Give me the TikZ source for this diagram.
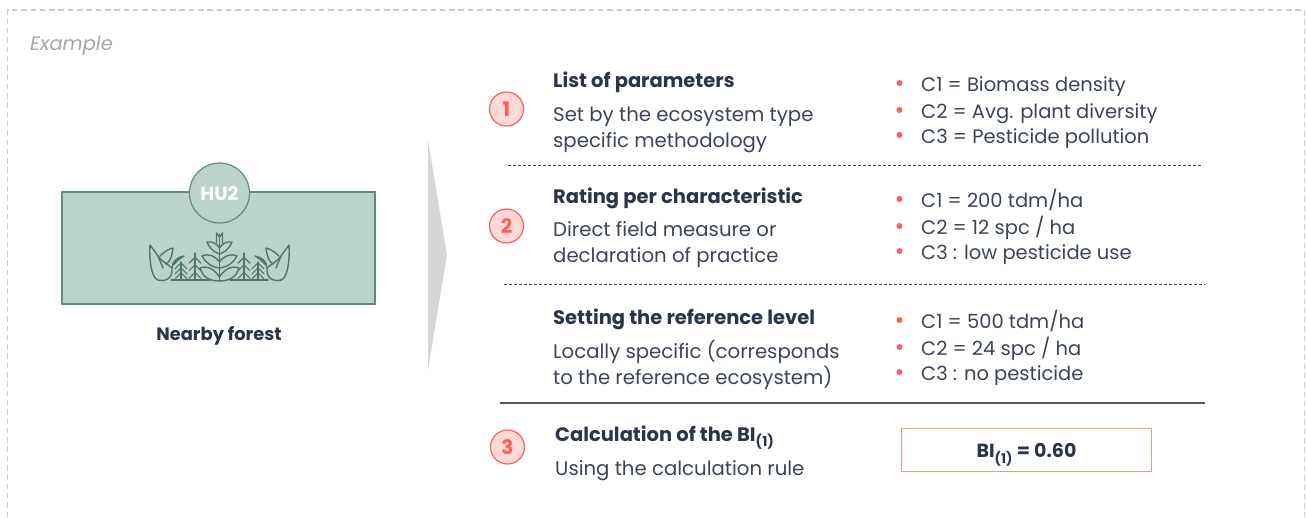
\documentclass[tikz,border=0pt]{standalone}
\usepackage{fontspec}
\setmainfont{Poppins}
\usetikzlibrary{positioning}
\definecolor{ink}{HTML}{2B3549}
\definecolor{body}{HTML}{3B4557}
\definecolor{coral}{HTML}{FF5F57}
\definecolor{blush}{HTML}{FFD9D6}
\definecolor{sage}{HTML}{BCD3CC}
\definecolor{pine}{HTML}{5E8C7F}
\definecolor{leaf}{HTML}{4F766B}
\tikzset{
  heading/.style={anchor=base west,inner sep=0pt,text=ink,font=\fontsize{19.5}{22}\selectfont\bfseries},
  descr/.style={anchor=base west,inner sep=0pt,text=body,align=left,font=\fontsize{19.7}{26}\selectfont},
  item/.style={anchor=base west,inner sep=0pt,text=body,font=\fontsize{19.5}{24}\selectfont},
  bull/.style={circle,fill=coral,inner sep=0pt,minimum size=6pt},
  badge/.style={circle,draw=coral,fill=blush,line width=1.2pt,minimum size=34pt,inner sep=0pt,text=coral,font=\fontsize{20}{22}\selectfont\bfseries},
  sepdash/.style={dash pattern=on 3pt off 2pt,draw=black!75,line width=0.8pt},
  plant/.style={draw=leaf,line width=1.4pt,line join=round,line cap=round}
}
\begin{document}
\begin{tikzpicture}[x=1pt,y=-1pt]
\useasboundingbox (0,0) rectangle (1307,517);

% frame
\coordinate (FL) at (7.5,517);
\coordinate (FT1) at (7.5,10);
\coordinate (FT2) at (1304.5,10);
\coordinate (FR) at (1304.5,517);
\draw [black!20,line width=1.4pt,dash pattern=on 5.5pt off 3.8pt] (FL) -- (FT1) -- (FT2) -- (FR);
\path (30,50) node (example) [anchor=base west,inner sep=0pt,text=black!35,font=\fontsize{19.5}{22}\selectfont\itshape] {Example};

% left
\path (218,247.5) node (habitat) [draw=pine,fill=sage,line width=2pt,minimum width=313pt,minimum height=112pt,inner sep=0pt] {};
\path (219.5,193) node (hu) [circle,draw=pine,fill=sage,line width=1.2pt,minimum size=60pt,inner sep=0pt,text=white,font=\fontsize{19}{20}\selectfont\bfseries] {HU2};
\path (219,340) node (forest) [anchor=base,inner sep=0pt,text=ink,font=\fontsize{17.9}{20}\selectfont\bfseries] {Nearby forest};

% plant
\draw [plant] (171,280) -- (210,280) (230,280) -- (268,280);
\draw [plant] (219.5,281) -- (219.5,234);
\draw [plant] (219.5,281) .. controls (206,281) and (202,274) .. (200,268) .. controls (208,265) and (215,270) .. (219.5,277);
\draw [plant] (219.5,281) .. controls (233,281) and (237,274) .. (239,268) .. controls (231,265) and (224,270) .. (219.5,277);
\draw [plant] (219.5,268) .. controls (211,267) and (205,262) .. (202,256) .. controls (209,253) and (215,256) .. (219.5,262);
\draw [plant] (219.5,268) .. controls (228,267) and (234,262) .. (237,256) .. controls (230,253) and (224,256) .. (219.5,262);
\draw [plant] (219.5,254) .. controls (213,252) and (209,247) .. (207,242) .. controls (213,241) and (217,244) .. (219.5,248);
\draw [plant] (219.5,254) .. controls (226,252) and (230,247) .. (232,242) .. controls (226,241) and (222,244) .. (219.5,248);
\draw [plant] (216.5,243) -- (216.5,233) -- (219.5,237) -- (222.5,233) -- (222.5,243);
\foreach \gx/\gy in {181/262,195/253,244/253,258/262}{
  \draw [plant,line width=1.1pt] (\gx,280) -- (\gx,\gy);
  \foreach \gb in {0.38,0.66,0.94}{
    \draw [plant,line width=1.1pt] ({\gx-6},{\gy+\gb*(280-\gy)}) -- (\gx,{\gy+\gb*(280-\gy)-6}) -- ({\gx+6},{\gy+\gb*(280-\gy)});
  }
}
\draw [plant] (158,280) .. controls (151,278) and (149,258) .. (150,245) -- (158,256) .. controls (160,262) and (162,264) .. (163,268);
\draw [plant] (158,280) .. controls (166,282) and (173,278) .. (172,268) .. controls (168,264) and (162,262) .. (158,256);
\draw [plant] (160,256) .. controls (165,251) and (169,249) .. (173,248) .. controls (172,256) and (170,262) .. (166,264);
\draw [plant] (172,268) .. controls (172,261) and (178,257) .. (184,256) .. controls (180,258) and (176,262) .. (173,265);
\draw [plant] (281,280) .. controls (288,278) and (290,258) .. (289,245) -- (281,256) .. controls (279,262) and (277,264) .. (276,268);
\draw [plant] (281,280) .. controls (273,282) and (266,278) .. (267,268) .. controls (271,264) and (277,262) .. (281,256);
\draw [plant] (279,256) .. controls (274,251) and (270,249) .. (266,248) .. controls (267,256) and (269,262) .. (273,264);
\draw [plant] (267,268) .. controls (267,261) and (261,257) .. (255,256) .. controls (259,258) and (263,262) .. (266,265);

% chevron
\path (428,140) coordinate (chevA) (447,255) coordinate (chevB) (428,370) coordinate (chevC);
\fill [black!16] (chevA) -- (chevB) -- (chevC) -- cycle;

% step 1
\path (506.5,109) node (b1) [badge] {1};
\path (553,87) node (t1) [heading] {List of parameters};
\path (553,147) node (d1) [descr] {Set by the ecosystem type\\specific methodology};
% step 2
\path (506.5,226) node (b2) [badge] {2};
\path (553,203) node (t2) [heading] {Rating per characteristic};
\path (553,262) node (d2) [descr] {Direct field measure or\\declaration of practice};
% reference
\path (553,324) node (t3) [heading] {Setting the reference level};
\path (553,384) node (d3) [descr] {Locally specific (corresponds\\to the reference ecosystem)};
% step 3
\path (507.5,447) node (b3) [badge] {3};
\path (555,441) node (t4) [heading] {Calculation of the BI\textsubscript{(1)}};
\path (555,475) node (d4) [descr] {Using the calculation rule};

% lists
\foreach \n/\ty/\tx in {
  a/91/{C1 = Biomass density},
  b/118/{C2 = Avg. plant diversity},
  c/143/{C3 = Pesticide pollution},
  d/207/{C1 = 200 tdm/ha},
  e/234/{C2 = 12 spc / ha},
  f/259/{C3 : low pesticide use},
  g/328/{C1 = 500 tdm/ha},
  h/355/{C2 = 24 spc / ha},
  i/380/{C3 : no pesticide}}{
  \path (921,\ty) node (item\n) [item] {\tx};
  \path (899.5,\ty-8) node (dot\n) [bull] {};
}

% separators
\coordinate (s1a) at (508,165.5);
\coordinate (s1b) at (1203,165.5);
\coordinate (s2a) at (504,284.5);
\coordinate (s2b) at (1205,284.5);
\coordinate (s3a) at (500,403);
\coordinate (s3b) at (1205,403);
\draw [sepdash] (s1a) -- (s1b);
\draw [sepdash] (s2a) -- (s2b);
\draw [black!65,line width=1.2pt] (s3a) -- (s3b);

% result
\path (1026.5,450) node (result) [draw=coral!70,line width=1pt,minimum width=250pt,minimum height=43pt,inner sep=0pt,text height=14pt,text depth=0pt,text=ink,font=\fontsize{19}{22}\selectfont\bfseries] {BI\textsubscript{(1)} = 0.60};
\end{tikzpicture}
\end{document}
